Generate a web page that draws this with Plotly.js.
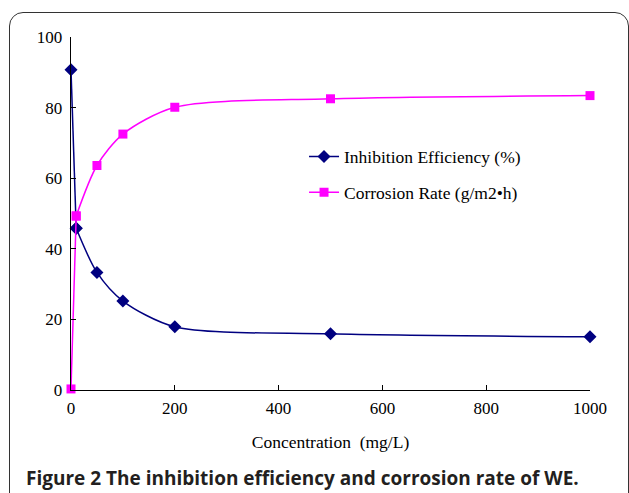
<!DOCTYPE html>
<html>
<head>
<meta charset="utf-8">
<script src="https://cdn.plot.ly/plotly-3.0.1.min.js"></script>
<style>
html,body{margin:0;padding:0;background:#fff;}
#wrap{position:relative;width:629px;height:493px;overflow:hidden;}
#frame{position:absolute;left:9px;top:12px;width:620px;height:495px;border:1.5px solid #333;border-radius:14px;box-sizing:border-box;}
#chart{position:absolute;left:0;top:0;width:629px;height:493px;}
</style>
</head>
<body>
<div id="wrap"><div id="frame"></div><div id="chart"></div></div>
<script>
const concentration = [0, 10, 50, 100, 200, 500, 1000];
const inhibitionEfficiency = [90.7, 45.8, 33.3, 25.2, 17.9, 15.9, 15.1];
const corrosionRate = [0.3, 49.3, 63.6, 72.5, 80.1, 82.5, 83.4];
const seriesNames = ['Inhibition Efficiency (%)', 'Corrosion Rate (g/m2\u2022h)'];
const xTicks = [0, 200, 400, 600, 800, 1000];
const yTicks = [0, 20, 40, 60, 80, 100];
const xTitle = 'Concentration  (mg/L)';
const caption = 'Figure 2 The inhibition efficiency and corrosion rate of WE.';

const serif = '"Liberation Serif", "Times New Roman", serif';
function series(yvals, name, color, symbol, size, group) {
  const line = {color: color, width: 1.5};
  const marker = {symbol: symbol, size: size, color: color};
  return [
    // first (very steep) segment drawn straight
    {x: concentration.slice(0, 2), y: yvals.slice(0, 2), name: name, legendgroup: group, showlegend: false,
     mode: 'lines+markers', line: line, marker: marker, cliponaxis: false},
    // remaining smoothed curve
    {x: concentration.slice(1), y: yvals.slice(1), name: name, legendgroup: group,
     mode: 'lines+markers', line: Object.assign({shape: 'spline', smoothing: 0.8}, line),
     marker: marker, cliponaxis: false}
  ];
}
const traces = [].concat(
  series(inhibitionEfficiency, seriesNames[0], '#000080', 'diamond', 10, 'a'),
  series(corrosionRate, seriesNames[1], '#FF00FF', 'square', 9, 'b')
);
const layout = {
  width: 629, height: 493,
  margin: {l: 71, r: 39, t: 37, b: 103},
  paper_bgcolor: 'rgba(0,0,0,0)', plot_bgcolor: 'rgba(0,0,0,0)',
  font: {family: serif, size: 17, color: '#000'},
  showlegend: true,
  legend: {x: 0.449, y: 0.712, xanchor: 'left', yanchor: 'top', traceorder: 'grouped', tracegroupgap: 10,
           bgcolor: 'rgba(0,0,0,0)', font: {family: serif, size: 17.5}},
  xaxis: {range: [0, 1000], tickvals: xTicks, ticks: 'inside', ticklen: 5, tickcolor: '#000',
          showline: true, linecolor: '#000', linewidth: 1.3, showgrid: false, zeroline: false,
          tickfont: {family: serif, size: 17}, ticklabelstandoff: 2,
          title: {text: xTitle, font: {family: serif, size: 17.5}, standoff: 19}},
  yaxis: {range: [0, 100], tickvals: yTicks, ticks: 'inside', ticklen: 5, tickcolor: '#000',
          showline: true, linecolor: '#000', linewidth: 1.3, showgrid: false, zeroline: false,
          tickfont: {family: serif, size: 17}, ticklabelstandoff: 4},
  annotations: [{text: caption, xref: 'paper', yref: 'paper', x: -0.09, y: -0.248,
                 xanchor: 'left', yanchor: 'middle', showarrow: false,
                 font: {family: 'Open Sans, sans-serif', size: 19, color: '#231f20', weight: 'bold'}}]
};
Plotly.newPlot('chart', traces, layout, {displayModeBar: false, staticPlot: true});
</script>
</body>
</html>
